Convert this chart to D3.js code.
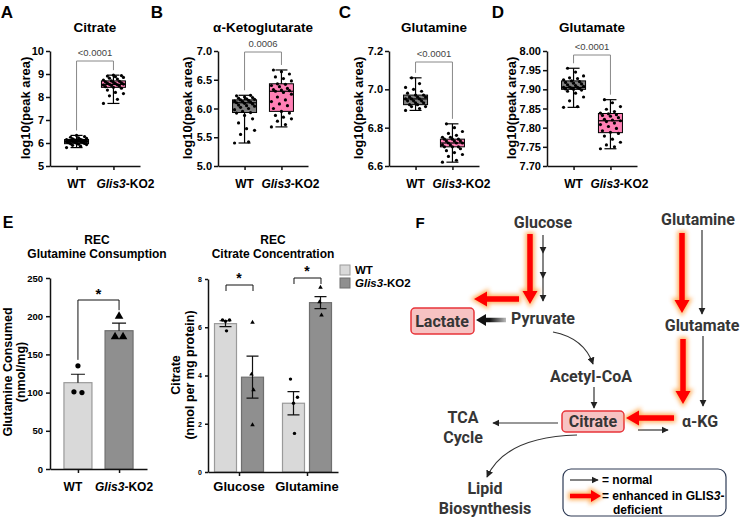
<!DOCTYPE html>
<html>
<head>
<meta charset="utf-8">
<script src="https://cdn.jsdelivr.net/npm/d3@7"></script>
<style>
  body { margin: 0; background: #fff; }
  svg { font-family: "Liberation Sans", Arial, sans-serif; display: block; }
</style>
</head>
<body>
<div id="chart"></div>
<script>
// ---- data ----
const groups = ['WT', 'Glis3-KO2'];

// A: citrate
const citrateWT = [5.80, 5.86, 5.90, 5.93, 5.95, 5.97, 5.98, 6.00, 6.01, 6.03, 6.04, 6.05, 6.06, 6.07, 6.07,
  6.08, 6.09, 6.10, 6.11, 6.12, 6.13, 6.14, 6.15, 6.16, 6.18, 6.20, 6.22, 6.25, 6.28, 6.33];
const citrateKO = [7.72, 7.90, 8.05, 8.15, 8.20, 8.30, 8.38, 8.42, 8.45, 8.48, 8.50, 8.52, 8.53, 8.55, 8.56,
  8.58, 8.60, 8.62, 8.64, 8.66, 8.68, 8.70, 8.74, 8.78, 8.82, 8.85, 8.88, 8.91, 8.93, 8.95];
const citrateBox = [[5.80, 5.97, 6.07, 6.15, 6.33], [7.72, 8.42, 8.55, 8.70, 8.95]];

// B: alpha-ketoglutarate
const akgWT = [5.40, 5.42, 5.55, 5.62, 5.65, 5.75, 5.82, 5.88, 5.92, 5.93, 5.95, 5.98, 6.00, 6.02, 6.04, 6.05,
  6.06, 6.08, 6.09, 6.10, 6.11, 6.12, 6.13, 6.14, 6.15, 6.16, 6.17, 6.18, 6.19, 6.20, 6.22, 6.23];
const akgKO = [5.68, 5.72, 5.78, 5.82, 5.85, 5.88, 5.92, 5.95, 6.00, 6.05, 6.08, 6.12, 6.15, 6.20, 6.25, 6.28,
  6.30, 6.31, 6.32, 6.33, 6.35, 6.38, 6.40, 6.42, 6.43, 6.48, 6.52, 6.55, 6.60, 6.64, 6.67];
const akgBox = [[5.40, 5.93, 6.10, 6.15, 6.23], [5.68, 5.95, 6.30, 6.43, 6.67]];

// C: glutamine
const glnWT = [6.89, 6.90, 6.91, 6.91, 6.92, 6.92, 6.93, 6.93, 6.94, 6.94, 6.94, 6.95, 6.95, 6.95, 6.96,
  6.96, 6.96, 6.97, 6.97, 6.98, 6.99, 7.00, 7.01, 7.03, 7.06];
const glnKO = [6.62, 6.63, 6.65, 6.66, 6.67, 6.68, 6.69, 6.70, 6.70, 6.70, 6.71, 6.71, 6.72, 6.72, 6.72, 6.73,
  6.73, 6.73, 6.74, 6.74, 6.74, 6.75, 6.75, 6.76, 6.77, 6.78, 6.80, 6.82];
const glnBox = [[6.89, 6.92, 6.95, 6.97, 7.06], [6.62, 6.70, 6.72, 6.74, 6.82]];

// D: glutamate
const gluWT = [7.853, 7.855, 7.870, 7.880, 7.890, 7.895, 7.898, 7.900, 7.901, 7.902, 7.903, 7.905, 7.905, 7.906,
  7.908, 7.910, 7.912, 7.914, 7.916, 7.918, 7.920, 7.922, 7.925, 7.928, 7.930, 7.935, 7.945, 7.955];
const gluKO = [7.745, 7.750, 7.755, 7.762, 7.770, 7.778, 7.785, 7.788, 7.792, 7.798, 7.803, 7.808, 7.812, 7.816,
  7.818, 7.820, 7.822, 7.826, 7.830, 7.832, 7.834, 7.836, 7.838, 7.842, 7.848, 7.855, 7.865, 7.873];
const gluBox = [[7.853, 7.900, 7.905, 7.922, 7.955], [7.745, 7.787, 7.818, 7.837, 7.873]];

// E left: glutamine consumption (nmol/mg)
const consMean = [113, 181];
const consErr = [11, 10];
const consWT = [135, 101, 100];
const consKO = [200, 173, 173];

// E right: citrate concentration (nmol per mg protein)
const carbon = ['Glucose', 'Glutamine'];
const citMeanWT = [6.15, 2.85];
const citErrWT = [0.12, 0.48];
const citMeanKO = [3.93, 7.02];
const citErrKO = [0.87, 0.25];
const citPtsWT = [[6.30, 6.30, 6.25, 5.85], [3.85, 3.10, 2.85, 1.60]];
const citPtsKO = [[6.20, 4.05, 3.40, 1.95], [7.65, 7.05, 6.50]];

// ---- drawing ----
const svg = d3.select('#chart').append('svg')
  .attr('width', 743).attr('height', 524);

const defs = svg.append('defs');
defs.append('filter').attr('id', 'glow')
  .attr('x', '-50%').attr('y', '-50%').attr('width', '200%').attr('height', '200%')
  .append('feGaussianBlur').attr('stdDeviation', 2);
defs.append('marker').attr('id', 'ah')
  .attr('viewBox', '0 0 10 10').attr('refX', 9).attr('refY', 5)
  .attr('markerWidth', 6).attr('markerHeight', 6).attr('orient', 'auto')
  .append('path').attr('d', 'M0,0L10,5L0,10Z').attr('fill', '#222');
const grad = defs.append('linearGradient').attr('id', 'bk')
  .attr('gradientUnits', 'userSpaceOnUse')
  .attr('x1', 506).attr('x2', 476).attr('y1', 0).attr('y2', 0);
grad.append('stop').attr('offset', 0).attr('stop-color', '#bbb');
grad.append('stop').attr('offset', 0.55).attr('stop-color', '#111');

function styleAxis(g, size) {
  g.select('.domain').attr('stroke', '#111').attr('stroke-width', 1.5);
  g.selectAll('.tick line').attr('stroke', '#111').attr('stroke-width', 1.5);
  g.selectAll('.tick text').attr('font-weight', 'bold').attr('font-size', size)
    .attr('fill', '#000').attr('font-family', '"Liberation Sans", Arial, sans-serif');
}

function groupText(sel, name) {
  if (name === 'Glis3-KO2') {
    sel.append('tspan').attr('font-style', 'italic').text('Glis3');
    sel.append('tspan').text('-KO2');
  } else {
    sel.text(name);
  }
}

function label(x, y, txt, size, opts = {}) {
  return svg.append('text').attr('x', x).attr('y', y)
    .attr('font-size', size).attr('font-weight', opts.weight || 'bold')
    .attr('text-anchor', opts.anchor || 'middle')
    .attr('fill', opts.fill || '#000')
    .text(txt);
}

// box plot panels
const boxPanels = [
  { letter: 'A', lx: 7, title: 'Citrate', x0: 50, ytx: 25, domain: [5, 10], ticks: d3.range(5, 10.01, 1), fmt: 'd',
    pts: [citrateWT, citrateKO], box: citrateBox, p: '<0.0001', by: 61, kdx: 12 },
  { letter: 'B', lx: 157, title: 'α-Ketoglutarate', x0: 218, ytx: 187, domain: [5, 7], ticks: d3.range(5, 7.01, 0.5), fmt: '.1f',
    pts: [akgWT, akgKO], box: akgBox, p: '0.0006', by: 52, kdx: 9 },
  { letter: 'C', lx: 345, title: 'Glutamine', x0: 389, ytx: 358, domain: [6.6, 7.2], ticks: [6.6, 6.8, 7.0, 7.2], fmt: '.1f',
    pts: [glnWT, glnKO], box: glnBox, p: '<0.0001', by: 62, kdx: 9 },
  { letter: 'D', lx: 498, title: 'Glutamate', x0: 547, ytx: 511, domain: [7.7, 8.0], ticks: d3.range(7.7, 8.001, 0.05), fmt: '.2f',
    pts: [gluWT, gluKO], box: gluBox, p: '<0.0001', by: 55, kdx: 9 }
];
const boxFill = ['#808080', '#ff80b5'];

boxPanels.forEach(p => {
  const y = d3.scaleLinear().domain(p.domain).range([166, 51]);
  const x = d3.scalePoint().domain(groups).range([p.x0, p.x0 + 90]).padding(0.72);

  svg.append('g').attr('transform', `translate(${p.x0},0)`)
    .call(d3.axisLeft(y).tickValues(p.ticks).tickFormat(d3.format(p.fmt)).tickSize(4).tickPadding(2).tickSizeOuter(0))
    .call(g => styleAxis(g, 11));
  svg.append('g').attr('transform', 'translate(0,166)')
    .call(d3.axisBottom(x).tickFormat('').tickSize(4).tickSizeOuter(0))
    .call(g => styleAxis(g, 11));

  label(p.lx, 18, p.letter, 17);
  label(p.x0 + 45, 32, p.title, 13.5);
  svg.append('text').attr('transform', `translate(${p.ytx},108) rotate(-90)`)
    .attr('text-anchor', 'middle').attr('dominant-baseline', 'central')
    .attr('font-size', 13).attr('font-weight', 'bold').text('log10(peak area)');

  groups.forEach((gname, i) => {
    const cx = x(gname);
    const s = p.box[i];
    const t = svg.append('text').attr('x', cx + (i === 1 ? p.kdx : 0)).attr('y', 188).attr('text-anchor', 'middle')
      .attr('font-size', 12).attr('font-weight', 'bold');
    groupText(t, gname);

    svg.append('line').attr('x1', cx).attr('x2', cx).attr('y1', y(s[0])).attr('y2', y(s[4]))
      .attr('stroke', '#000').attr('stroke-width', 1.2);
    [s[0], s[4]].forEach(v => svg.append('line').attr('x1', cx - 6).attr('x2', cx + 6)
      .attr('y1', y(v)).attr('y2', y(v)).attr('stroke', '#000').attr('stroke-width', 1.2));
    svg.append('rect').attr('x', cx - 12).attr('width', 24)
      .attr('y', y(s[3])).attr('height', y(s[1]) - y(s[3]))
      .attr('fill', boxFill[i]).attr('stroke', '#000').attr('stroke-width', 1);
    svg.append('line').attr('x1', cx - 12).attr('x2', cx + 12).attr('y1', y(s[2])).attr('y2', y(s[2]))
      .attr('stroke', '#000').attr('stroke-width', 1.2);

    svg.append('g').selectAll('circle').data(p.pts[i]).enter().append('circle')
      .attr('cx', (d, j) => cx + (((j * 7) % 11) / 10 - 0.5) * 20)
      .attr('cy', d => y(d)).attr('r', 1.6).attr('fill', '#000');
  });

  // significance bracket
  const xa = x(groups[0]), xb = x(groups[1]);
  svg.append('path')
    .attr('d', `M${xa},${y(p.box[0][4]) - 5}V${p.by}H${xb}V${y(p.box[1][4]) - 5}`)
    .attr('fill', 'none').attr('stroke', '#888').attr('stroke-width', 1);
  label((xa + xb) / 2, p.by - 5, p.p, 9.5, { weight: 'normal', fill: '#444' });
});

// ---- E left: glutamine consumption ----
const yC = d3.scaleLinear().domain([0, 250]).range([469, 278]);
const xC = d3.scalePoint().domain(groups).range([50, 147]).padding(0.68);
const barFill = ['#d9d9d9', '#8f8f8f'];
const barStroke = ['#9a9a9a', '#6f6f6f'];
const jit = [0, -4, 4, 1];

label(8, 228, 'E', 16);
label(97, 244, 'REC', 12);
label(97, 258, 'Glutamine Consumption', 12);

consMean.forEach((m, i) => {
  const cx = xC(groups[i]);
  svg.append('rect').attr('x', cx - 14).attr('width', 28).attr('y', yC(m)).attr('height', yC(0) - yC(m))
    .attr('fill', barFill[i]).attr('stroke', barStroke[i]).attr('stroke-width', 1.2);
  svg.append('path').attr('d', `M${cx},${yC(m)}V${yC(m + consErr[i])}M${cx - 7},${yC(m + consErr[i])}H${cx + 7}`)
    .attr('stroke', '#111').attr('stroke-width', 1.2).attr('fill', 'none');
});
svg.append('g').selectAll('circle').data(consWT).enter().append('circle')
  .attr('cx', (d, j) => xC(groups[0]) + jit[j]).attr('cy', d => yC(d)).attr('r', 2.6).attr('fill', '#000');
svg.append('g').selectAll('path').data(consKO).enter().append('path')
  .attr('d', d3.symbol(d3.symbolTriangle, 32))
  .attr('transform', (d, j) => `translate(${xC(groups[1]) + jit[j]},${yC(d)})`).attr('fill', '#000');

svg.append('g').attr('transform', 'translate(50,0)')
  .call(d3.axisLeft(yC).tickValues([0, 50, 100, 150, 200, 250]).tickSize(4).tickSizeOuter(0))
  .call(g => styleAxis(g, 9.5));
svg.append('g').attr('transform', `translate(0,${yC(0)})`)
  .call(d3.axisBottom(xC).tickFormat('').tickSize(4).tickSizeOuter(0))
  .call(g => styleAxis(g, 9));
groups.forEach((gname, i) => {
  const t = svg.append('text').attr('x', xC(gname) + (i === 0 ? -5 : 5)).attr('y', 491).attr('text-anchor', 'middle')
    .attr('font-size', 12).attr('font-weight', 'bold');
  groupText(t, gname);
});
svg.append('text').attr('transform', 'translate(8,372) rotate(-90)').attr('text-anchor', 'middle')
  .attr('dominant-baseline', 'central').attr('font-size', 12.5).attr('font-weight', 'bold').text('Glutamine Consumed');
svg.append('text').attr('transform', 'translate(21,372) rotate(-90)').attr('text-anchor', 'middle')
  .attr('dominant-baseline', 'central').attr('font-size', 12.5).attr('font-weight', 'bold').text('(nmol/mg)');
svg.append('path')
  .attr('d', `M${xC(groups[0])},${yC(d3.max(consWT)) - 6}V300H${xC(groups[1])}V${yC(d3.max(consKO)) - 6}`)
  .attr('fill', 'none').attr('stroke', '#111').attr('stroke-width', 1);
label((xC(groups[0]) + xC(groups[1])) / 2, 299, '*', 15);

// ---- E right: citrate concentration ----
const yT = d3.scaleLinear().domain([0, 8]).range([472, 279]);
const xT = d3.scalePoint().domain(carbon).range([208, 338]).padding(0.456);
const off = [-13.5, 13.5];

label(273, 244, 'REC', 12);
label(273, 258, 'Citrate Concentration', 12);

carbon.forEach((c, k) => {
  const means = [citMeanWT[k], citMeanKO[k]];
  const errs = [citErrWT[k], citErrKO[k]];
  const pts = [citPtsWT[k], citPtsKO[k]];
  means.forEach((m, i) => {
    const cx = xT(c) + off[i];
    svg.append('rect').attr('x', cx - 11).attr('width', 22).attr('y', yT(m)).attr('height', yT(0) - yT(m))
      .attr('fill', barFill[i]).attr('stroke', barStroke[i]).attr('stroke-width', 1.2);
    svg.append('path')
      .attr('d', `M${cx},${yT(m - errs[i])}V${yT(m + errs[i])}M${cx - 6},${yT(m + errs[i])}H${cx + 6}M${cx - 6},${yT(m - errs[i])}H${cx + 6}`)
      .attr('stroke', '#111').attr('stroke-width', 1.2).attr('fill', 'none');
    if (i === 0) {
      svg.append('g').selectAll('circle').data(pts[i]).enter().append('circle')
        .attr('cx', (d, j) => cx + [-3, 4, 0, 1][j]).attr('cy', d => yT(d)).attr('r', 1.7).attr('fill', '#000');
    } else {
      svg.append('g').selectAll('path').data(pts[i]).enter().append('path')
        .attr('d', d3.symbol(d3.symbolTriangle, 9))
        .attr('transform', (d, j) => `translate(${cx + [0, -1, 1, 0][j]},${yT(d)})`).attr('fill', '#000');
    }
  });
  // bracket
  const bt = k === 0 ? 285 : 278;
  svg.append('path').attr('d', `M${xT(c) - 13},${bt + 6}V${bt}H${xT(c) + 14}V${bt + 6}`)
    .attr('fill', 'none').attr('stroke', '#111').attr('stroke-width', 1);
  label(xT(c), bt - 2, '*', 14);
});

svg.append('g').attr('transform', 'translate(208,0)')
  .call(d3.axisLeft(yT).tickValues([0, 2, 4, 6, 8]).tickSize(3).tickSizeOuter(0))
  .call(g => styleAxis(g, 7));
svg.append('g').attr('transform', `translate(0,${yT(0)})`)
  .call(d3.axisBottom(xT).tickFormat('').tickSize(4).tickSizeOuter(0))
  .call(g => styleAxis(g, 9));
carbon.forEach(c => label(xT(c), 491, c, 13));
svg.append('text').attr('transform', 'translate(176,375) rotate(-90)').attr('text-anchor', 'middle')
  .attr('dominant-baseline', 'central').attr('font-size', 12.5).attr('font-weight', 'bold').text('Citrate');
svg.append('text').attr('transform', 'translate(190,375) rotate(-90)').attr('text-anchor', 'middle')
  .attr('dominant-baseline', 'central').attr('font-size', 12.5).attr('font-weight', 'bold').text('(nmol per mg protein)');

// legend
groups.forEach((gname, i) => {
  svg.append('rect').attr('x', 340).attr('y', 265 + i * 13).attr('width', 10).attr('height', 10)
    .attr('fill', barFill[i]).attr('stroke', barStroke[i]).attr('stroke-width', 1);
  const t = svg.append('text').attr('x', 355).attr('y', 274 + i * 13)
    .attr('font-size', 11.5).attr('font-weight', 'bold');
  groupText(t, gname);
});

// ---- F: pathway diagram ----
const pf = svg.append('g').attr('font-family', 'Roboto, "Noto Sans", sans-serif');
label(420, 228, 'F', 15);

function fatArrow(x1, y1, x2, y2, sw, hw, hl) {
  const L = Math.hypot(x2 - x1, y2 - y1), ux = (x2 - x1) / L, uy = (y2 - y1) / L, nx = -uy, ny = ux;
  const bx = x2 - ux * hl, by = y2 - uy * hl;
  const pts = [[x1 + nx * sw / 2, y1 + ny * sw / 2], [bx + nx * sw / 2, by + ny * sw / 2], [bx + nx * hw / 2, by + ny * hw / 2],
    [x2, y2], [bx - nx * hw / 2, by - ny * hw / 2], [bx - nx * sw / 2, by - ny * sw / 2], [x1 - nx * sw / 2, y1 - ny * sw / 2]];
  return 'M' + pts.map(p => p.join(',')).join('L') + 'Z';
}
function redArrow(x1, y1, x2, y2, sw = 5.5, hw = 15, hl = 13) {
  const d = fatArrow(x1, y1, x2, y2, sw, hw, hl);
  pf.append('path').attr('d', d).attr('fill', '#ffa040').attr('stroke', '#ffa040')
    .attr('stroke-width', 3.5).attr('filter', 'url(#glow)').attr('opacity', 0.85);
  pf.append('path').attr('d', d).attr('fill', '#ff0000');
}
function thin(d) {
  pf.append('path').attr('d', d).attr('fill', 'none').attr('stroke', '#333')
    .attr('stroke-width', 1.2).attr('marker-end', 'url(#ah)');
}

// boxes
const boxes = [
  { x: 411, y: 308, w: 63, h: 26 },
  { x: 562, y: 411, w: 62, h: 21 }
];
boxes.forEach(b => pf.append('rect').attr('x', b.x).attr('y', b.y).attr('width', b.w).attr('height', b.h)
  .attr('rx', 4).attr('fill', '#f7c3c3').attr('stroke', '#e8343a').attr('stroke-width', 1.5));

// thin arrows
thin('M543,235V253'); thin('M543,253V278'); thin('M543,278V301');
thin('M702,230V314');
thin('M703,336V406');
thin('M553,332Q584,338 593,364');
thin('M594,387V408');
thin('M558,423H493');
thin('M638,430H668');
thin('M577,435Q505,437 487,477');

// black thick arrow pyruvate -> lactate
pf.append('path').attr('d', fatArrow(506, 320, 476, 320, 4.5, 12, 10)).attr('fill', 'url(#bk)');

// red arrows
redArrow(530, 234, 530, 304);
redArrow(519, 299, 474, 299);
redArrow(682, 233, 682, 313);
redArrow(683, 339, 683, 404);
redArrow(674, 418, 626, 418);

// node labels
const nodes = [
  { t: 'Glucose', x: 543, y: 222 },
  { t: 'Glutamine', x: 698, y: 219 },
  { t: 'Pyruvate', x: 543, y: 318 },
  { t: 'Lactate', x: 442, y: 321 },
  { t: 'Glutamate', x: 702, y: 325 },
  { t: 'Acetyl-CoA', x: 591, y: 376 },
  { t: 'Citrate', x: 593, y: 421 },
  { t: 'α-KG', x: 700, y: 421 },
  { t: 'TCA', x: 463, y: 417 },
  { t: 'Cycle', x: 463, y: 437 },
  { t: 'Lipid', x: 485, y: 488 },
  { t: 'Biosynthesis', x: 485, y: 508 }
];
pf.selectAll('text.node').data(nodes).enter().append('text')
  .attr('class', 'node').attr('x', d => d.x).attr('y', d => d.y)
  .attr('text-anchor', 'middle').attr('dominant-baseline', 'central')
  .attr('font-size', 16).attr('font-weight', 'bold').attr('fill', '#363636')
  .text(d => d.t);

// legend box
pf.append('rect').attr('x', 563).attr('y', 469).attr('width', 163).attr('height', 47).attr('rx', 8)
  .attr('fill', '#fff').attr('stroke', '#2e3b55').attr('stroke-width', 1.2);
thin('M570,480H598');
redArrow(570, 496, 601, 496, 4.5, 12, 10);
const lg = svg.append('g').attr('font-size', 12).attr('font-weight', 'bold').attr('fill', '#000');
lg.append('text').attr('x', 602).attr('y', 484).text('= normal');
const lt = lg.append('text').attr('x', 602).attr('y', 500);
lt.append('tspan').text('= enhanced in GLIS');
lt.append('tspan').attr('font-style', 'italic').text('3');
lt.append('tspan').text('-');
lg.append('text').attr('x', 613).attr('y', 514).text('deficient');
</script>
</body>
</html>
